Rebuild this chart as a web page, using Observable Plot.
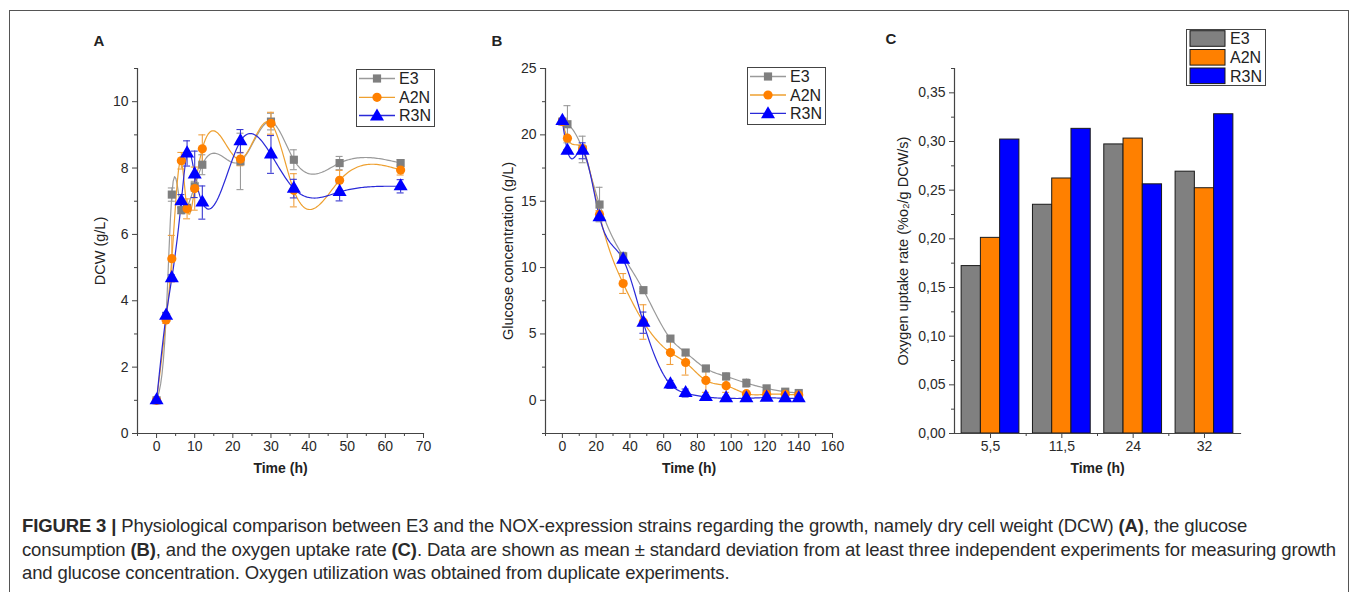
<!DOCTYPE html>
<html>
<head>
<meta charset="utf-8">
<script src="https://cdn.jsdelivr.net/npm/d3@7"></script>
<script src="https://cdn.jsdelivr.net/npm/@observablehq/plot@0.6"></script>
<style>
  body { margin: 0; background: #fff; }
  #fig { position: relative; width: 1357px; height: 592px; overflow: hidden; background: #fff;
         font-family: "Liberation Sans", Arial, sans-serif; color: #222; }
  .abs { position: absolute; }
  .letter { position: absolute; font-weight: bold; font-size: 15px; transform: translate(-50%, -50%); }
  .legend { position: absolute; border: 1.5px solid #444; background: #fff; box-sizing: border-box; }
  #caption { position: absolute; left: 22px; top: 514px; white-space: nowrap;
             font-family: "Liberation Sans Narrow", "Liberation Sans", Arial, sans-serif;
             font-size: 18.5px; line-height: 23.5px; color: #2a2a2a; }
  #caption div { white-space: nowrap; }
</style>
</head>
<body>
<div id="fig">
  <div class="abs" style="left:9px;top:10px;width:1340px;height:620px;border:1.5px solid #555;box-sizing:border-box;"></div>
  <div class="letter" style="left:99px;top:40px;">A</div>
  <div class="letter" style="left:497px;top:40px;">B</div>
  <div class="letter" style="left:891px;top:38px;">C</div>
  <div id="pa" class="abs" style="left:80px;top:50px;"></div>
  <div id="pb" class="abs" style="left:490px;top:50px;"></div>
  <div id="pc" class="abs" style="left:880px;top:50px;"></div>
  <div id="caption">
    <div id="cl1"><b>FIGURE 3 |</b> Physiological comparison between E3 and the NOX-expression strains regarding the growth, namely dry cell weight (DCW) <b>(A)</b>, the glucose</div>
    <div id="cl2">consumption <b>(B)</b>, and the oxygen uptake rate <b>(C)</b>. Data are shown as mean ± standard deviation from at least three independent experiments for measuring growth</div>
    <div id="cl3">and glucose concentration. Oxygen utilization was obtained from duplicate experiments.</div>
  </div>
</div>
<script>
// ---------------- DATA ----------------
const strains = ["E3", "A2N", "R3N"];
const markerColors = ["#7f7f7f", "#ff8000", "#0000ff"];
const lineColors = ["#9a9a9a", "#eea030", "#2a2ad8"];
const errColors = ["#9a9a9a", "#f0a040", "#3a3ad0"];
const symbols = ["square", "circle", "triangle"];

// Panel A: dry cell weight (g/L)
const timesA = [0, 2.5, 4, 6.5, 8, 10, 12, 22, 30, 36, 48, 64];
const dcwE3  = [1.0, 3.5, 7.2, 6.73, 6.8, 7.45, 8.1, 8.2, 9.4, 8.25, 8.15, 8.15];
const dcwA2N = [1.0, 3.42, 5.27, 8.22, 6.77, 7.38, 8.58, 8.27, 9.35, 7.33, 7.63, 7.94];
const dcwR3N = [1.0, 3.55, 4.68, 7.0, 8.44, 7.81, 6.96, 8.81, 8.41, 7.38, 7.28, 7.45];
const sdA_E3  = [0, 0.1, 0.2, 0.1, 0.1, 0.15, 0.3, 0.85, 0.25, 0.3, 0.2, 0.1];
const sdA_A2N = [0, 0.1, 0.7, 0.25, 0.3, 0.65, 0.42, 0.2, 0.33, 0.5, 0.3, 0.15];
const sdA_R3N = [0, 0.1, 0.1, 0.2, 0.38, 0.7, 0.5, 0.35, 0.57, 0.28, 0.27, 0.2];
const xTicksA = [0, 10, 20, 30, 40, 50, 60, 70];
const xMinorA = [-5, 5, 15, 25, 35, 45, 55, 65];
const yTicksA = [0, 2, 4, 6, 8, 10];
const yMinorA = [1, 3, 5, 7, 9, 11];

// Panel B: glucose concentration (g/L)
const timesB = [0, 3, 12, 22, 36, 48, 64, 73, 85, 97, 109, 121, 132, 140];
const glcE3  = [21.0, 20.8, 18.9, 14.75, 10.85, 8.3, 4.65, 3.6, 2.4, 1.8, 1.3, 0.9, 0.65, 0.55];
const glcA2N = [21.0, 19.75, 18.95, 14.0, 8.8, 5.9, 3.6, 2.85, 1.5, 1.1, 0.5, 0.45, 0.45, 0.4];
const glcR3N = [21.05, 18.8, 18.8, 13.8, 10.6, 5.85, 1.2, 0.55, 0.25, 0.15, 0.15, 0.2, 0.15, 0.15];
const sdB_E3  = [0.2, 1.4, 1.0, 1.3, 0.3, 0.1, 0.2, 0.2, 0.2, 0.25, 0.3, 0.2, 0.1, 0.1];
const sdB_A2N = [0.2, 0.2, 0.3, 0.3, 0.75, 1.3, 0.9, 0.95, 0.9, 0.5, 0.1, 0.1, 0.1, 0.1];
const sdB_R3N = [0.1, 0.1, 0.6, 0.2, 0.2, 0.8, 0.3, 0.3, 0.1, 0.1, 0.1, 0.1, 0.1, 0.1];
const xTicksB = [0, 20, 40, 60, 80, 100, 120, 140, 160];
const xMinorB = [-10, 10, 30, 50, 70, 90, 110, 130, 150];
const yTicksB = [0, 5, 10, 15, 20, 25];
const yMinorB = [-2.5, 2.5, 7.5, 12.5, 17.5, 22.5];

// Panel C: oxygen uptake rate
const timesC = ["5,5", "11,5", "24", "32"];
const ourE3  = [0.172, 0.235, 0.297, 0.269];
const ourA2N = [0.201, 0.262, 0.303, 0.252];
const ourR3N = [0.302, 0.313, 0.256, 0.328];
const yTicksC = [0, 0.05, 0.10, 0.15, 0.20, 0.25, 0.30, 0.35];
const yMinorC = [0.025, 0.075, 0.125, 0.175, 0.225, 0.275, 0.325, 0.375];

// ---------------- helpers ----------------
// natural cubic spline of y as a function of x (Origin-style "spline" connection)
class NaturalX {
  constructor(ctx) { this._c = ctx; }
  areaStart() {} areaEnd() {}
  lineStart() { this._x = []; this._y = []; }
  point(x, y) { this._x.push(+x); this._y.push(+y); }
  lineEnd() {
    const X = this._x, Y = this._y, n = X.length, c = this._c;
    if (!n) return;
    c.moveTo(X[0], Y[0]);
    if (n < 3) { for (let i = 1; i < n; i++) c.lineTo(X[i], Y[i]); return; }
    const h = [], M = new Array(n).fill(0);
    for (let i = 0; i < n - 1; i++) h.push(X[i + 1] - X[i]);
    const a = [], b = [], cc = [], d = [];
    for (let i = 1; i < n - 1; i++) {
      a.push(h[i - 1]); b.push(2 * (h[i - 1] + h[i])); cc.push(h[i]);
      d.push(6 * ((Y[i + 1] - Y[i]) / h[i] - (Y[i] - Y[i - 1]) / h[i - 1]));
    }
    const m = d.length;
    for (let i = 1; i < m; i++) {
      const w = a[i] / b[i - 1];
      b[i] -= w * cc[i - 1]; d[i] -= w * d[i - 1];
    }
    const sol = new Array(m);
    sol[m - 1] = d[m - 1] / b[m - 1];
    for (let i = m - 2; i >= 0; i--) sol[i] = (d[i] - cc[i] * sol[i + 1]) / b[i];
    for (let i = 0; i < m; i++) M[i + 1] = sol[i];
    for (let i = 0; i < n - 1; i++) {
      const hi = h[i], steps = Math.max(4, Math.ceil(Math.abs(hi) / 1.5));
      for (let k = 1; k <= steps; k++) {
        const x = X[i] + hi * k / steps;
        const A = X[i + 1] - x, B = x - X[i];
        const y = M[i] * A * A * A / (6 * hi) + M[i + 1] * B * B * B / (6 * hi)
          + (Y[i] / hi - M[i] * hi / 6) * A + (Y[i + 1] / hi - M[i + 1] * hi / 6) * B;
        c.lineTo(x, y);
      }
    }
  }
}
const naturalX = (ctx) => new NaturalX(ctx);

const baseStyle = { fontFamily: "Liberation Sans, Arial, sans-serif", fontSize: "14px", color: "#2a2a2a", background: "transparent", overflow: "visible" };
const axisColor = "#444";

function axesMarks(xt, xm, yt, ym, yFmt) {
  return [
    Plot.frame({ anchor: "left", stroke: axisColor, strokeWidth: 1.2 }),
    Plot.frame({ anchor: "bottom", stroke: axisColor, strokeWidth: 1.2 }),
    Plot.axisX(xt, { tickSize: 5, tickPadding: 3, label: null, stroke: axisColor }),
    Plot.axisX(xm, { tickSize: 3, tickFormat: () => "", label: null, stroke: axisColor }),
    Plot.axisY(yt, { tickSize: 5, tickPadding: 4, label: null, stroke: axisColor, tickFormat: yFmt }),
    Plot.axisY(ym, { tickSize: 3, tickFormat: () => "", label: null, stroke: axisColor })
  ];
}
function titleMarks(xLabel, yLabel, yOff) {
  return [
    Plot.text([xLabel], { frameAnchor: "bottom", dy: 35, fontWeight: "bold", fontSize: 14, textAnchor: "middle", lineAnchor: "middle", fill: "#222" }),
    Plot.text([yLabel], { frameAnchor: "left", dx: yOff, rotate: -90, fontSize: 14.5, textAnchor: "middle", lineAnchor: "middle", fill: "#222" })
  ];
}
function seriesMarks(times, series, sds) {
  const marks = [];
  series.forEach((vals, k) => {
    const rows = times.map((t, i) => ({ t, v: vals[i], e: sds[k][i] }));
    marks.push(Plot.line(rows, { x: "t", y: "v", stroke: lineColors[k], strokeWidth: 1.2, curve: naturalX }));
  });
  series.forEach((vals, k) => {
    const rows = times.map((t, i) => ({ t, v: vals[i], e: sds[k][i] })).filter(d => d.e > 0);
    marks.push(Plot.ruleX(rows, { x: "t", y1: d => d.v - d.e, y2: d => d.v + d.e, stroke: errColors[k], strokeWidth: 1.1 }));
    marks.push(Plot.ruleY(rows, { y: d => d.v + d.e, x1: "t", x2: "t", insetLeft: -3.5, insetRight: -3.5, stroke: errColors[k], strokeWidth: 1.1 }));
    marks.push(Plot.ruleY(rows, { y: d => d.v - d.e, x1: "t", x2: "t", insetLeft: -3.5, insetRight: -3.5, stroke: errColors[k], strokeWidth: 1.1 }));
  });
  series.forEach((vals, k) => {
    const rows = times.map((t, i) => ({ t, v: vals[i] }));
    marks.push(Plot.dot(rows, { x: "t", y: "v", symbol: () => symbols[k], fill: markerColors[k], stroke: "none", r: k === 2 ? 5.2 : 4.6 }));
  });
  return marks;
}

// ---------------- Panel A ----------------
const plotA = Plot.plot({
  width: 360, height: 420, marginLeft: 57, marginRight: 17, marginTop: 18, marginBottom: 37,
  x: { domain: [-5, 70] }, y: { domain: [0, 11] },
  symbol: { type: "identity" },
  style: baseStyle,
  marks: [
    ...seriesMarks(timesA, [dcwE3, dcwA2N, dcwR3N], [sdA_E3, sdA_A2N, sdA_R3N]),
    ...axesMarks(xTicksA, xMinorA, yTicksA, yMinorA, d => String(d)),
    ...titleMarks("Time (h)", "DCW (g/L)", -37)
  ]
});
document.getElementById("pa").appendChild(plotA);

// ---------------- Panel B ----------------
const plotB = Plot.plot({
  width: 360, height: 420, marginLeft: 55, marginRight: 18, marginTop: 18, marginBottom: 37,
  x: { domain: [-10, 160] }, y: { domain: [-2.5, 25] },
  symbol: { type: "identity" },
  style: baseStyle,
  marks: [
    ...seriesMarks(timesB, [glcE3, glcA2N, glcR3N], [sdB_E3, sdB_A2N, sdB_R3N]),
    ...axesMarks(xTicksB, xMinorB, yTicksB, yMinorB, d => String(d)),
    ...titleMarks("Time (h)", "Glucose concentration (g/L)", -37)
  ]
});
document.getElementById("pb").appendChild(plotB);

// ---------------- Panel C ----------------
const widthC = 380, mlC = 74, mrC = 20, pInner = 0.19, pOuter = 0.1;
const stepC = (widthC - mlC - mrC) / (timesC.length - pInner + 2 * pOuter);
const barW = stepC * (1 - pInner) / 3;
const barColors = ["#808080", "#ff8000", "#0000ff"];
const rowsC = [];
[ourE3, ourA2N, ourR3N].forEach((vals, k) => timesC.forEach((t, i) => rowsC.push({ t, s: strains[k], v: vals[i] })));
const plotC = Plot.plot({
  width: widthC, height: 420, marginLeft: mlC, marginRight: mrC, marginTop: 18, marginBottom: 37,
  x: { domain: timesC, paddingInner: pInner, paddingOuter: pOuter, round: false },
  y: { domain: [0, 0.375] },
  style: baseStyle,
  marks: [
    ...strains.map((s, k) => Plot.barY(rowsC.filter(d => d.s === s), {
      x: "t", y: "v", fill: barColors[k], stroke: "#1a1a1a", strokeWidth: 1,
      insetLeft: k * barW, insetRight: (2 - k) * barW
    })),
    Plot.frame({ anchor: "left", stroke: axisColor, strokeWidth: 1.2 }),
    Plot.frame({ anchor: "bottom", stroke: axisColor, strokeWidth: 1.2 }),
    Plot.axisX(timesC, { tickSize: 5, tickPadding: 3, label: null, stroke: axisColor }),
    Plot.axisX(timesC.slice(0, 3), { tickSize: 3, dx: stepC / 2, tickFormat: () => "", label: null, stroke: axisColor }),
    Plot.axisY(yTicksC, { tickSize: 5, tickPadding: 4, label: null, stroke: axisColor, tickFormat: d => d.toFixed(2).replace(".", ",") }),
    Plot.axisY(yMinorC, { tickSize: 3, tickFormat: () => "", label: null, stroke: axisColor }),
    ...titleMarks("Time (h)", "Oxygen uptake rate (%o\u2082/g DCW/s)", -51)
  ]
});
document.getElementById("pc").appendChild(plotC);

// ---------------- Legends ----------------
function lineLegend(left, top, rowYs) {
  const div = document.createElement("div");
  div.className = "legend";
  Object.assign(div.style, { left: left + "px", top: top + "px", width: "79px", height: "58px" });
  const svg = d3.create("svg").attr("width", 79).attr("height", 58).style("position", "absolute").style("left", "-1.5px").style("top", "-1.5px");
  strains.forEach((s, k) => {
    const y = rowYs[k];
    svg.append("line").attr("x1", 3).attr("x2", 39).attr("y1", y).attr("y2", y).attr("stroke", lineColors[k]).attr("stroke-width", 1.3);
    const sym = [d3.symbolSquare, d3.symbolCircle, d3.symbolTriangle][k];
    const size = k === 2 ? 85 : 67;
    svg.append("path").attr("d", d3.symbol(sym, size)()).attr("transform", `translate(21,${y + (k === 2 ? 1 : 0)})`).attr("fill", markerColors[k]);
    svg.append("text").attr("x", 43).attr("y", y).attr("dy", "0.36em").attr("font-size", 16).attr("fill", "#222")
      .attr("font-family", "Liberation Sans, Arial, sans-serif").text(s);
  });
  div.appendChild(svg.node());
  document.getElementById("fig").appendChild(div);
}
lineLegend(356, 69, [9.5, 28.3, 46.5]);
lineLegend(747, 67, [9.5, 28.0, 46.3]);

(function barLegend() {
  const div = document.createElement("div");
  div.className = "legend";
  Object.assign(div.style, { left: "1186px", top: "29px", width: "80px", height: "57px" });
  const svg = d3.create("svg").attr("width", 80).attr("height", 57).style("position", "absolute").style("left", "-1.5px").style("top", "-1.5px");
  strains.forEach((s, k) => {
    const y = [9.5, 28.3, 46.8][k];
    svg.append("rect").attr("x", 4).attr("y", y - 7.8).attr("width", 35).attr("height", 15.6)
      .attr("fill", barColors[k]).attr("stroke", "#1a1a1a").attr("stroke-width", 1);
    svg.append("text").attr("x", 44).attr("y", y).attr("dy", "0.36em").attr("font-size", 16).attr("fill", "#222")
      .attr("font-family", "Liberation Sans, Arial, sans-serif").text(s);
  });
  div.appendChild(svg.node());
  document.getElementById("fig").appendChild(div);
})();

// ---------------- Caption width fit ----------------
(function fitCaption() {
  const l2 = document.getElementById("cl2");
  l2.style.display = "inline-block";
  const w = l2.getBoundingClientRect().width;
  l2.style.display = "block";
  const chars = l2.textContent.length;
  const ls = (1314 - w) / chars;
  document.getElementById("caption").style.letterSpacing = ls.toFixed(3) + "px";
})();
</script>
</body>
</html>
